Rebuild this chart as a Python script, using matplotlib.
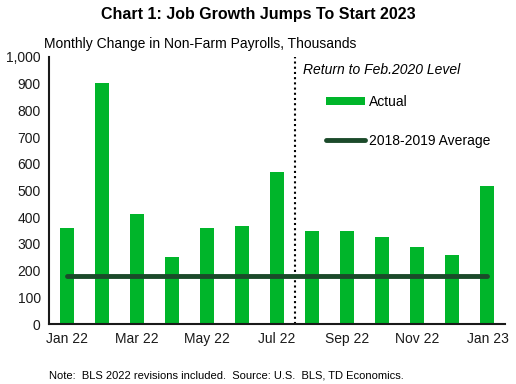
import matplotlib
matplotlib.use("Agg")
import matplotlib.pyplot as plt
import numpy as np
from matplotlib.ticker import FuncFormatter

plt.rcParams['font.family'] = ['Liberation Sans', 'DejaVu Sans']

months = ["Jan 22", "Feb 22", "Mar 22", "Apr 22", "May 22", "Jun 22", "Jul 22",
          "Aug 22", "Sep 22", "Oct 22", "Nov 22", "Dec 22", "Jan 23"]
actual = [360, 904, 412, 251, 360, 368, 568, 350, 350, 324, 290, 260, 517]
average_2018_2019 = 178
tick_labels = ["Jan 22", "Mar 22", "May 22", "Jul 22", "Sep 22", "Nov 22", "Jan 23"]

fig = plt.figure(figsize=(5.16, 3.84), dpi=100)
ax = fig.add_axes([49/516, 1-324/384, 456/516, (324-57)/384])

x = np.arange(len(months))
bars = ax.bar(x, actual, width=0.4, color="#00B52A", label="Actual", zorder=2)
line, = ax.plot([x[0], x[-1]], [average_2018_2019]*2, color="#1B4A2A", lw=3.5,
                solid_capstyle="round", label="2018-2019 Average", zorder=3)
ax.axvline(6.5, color="black", ls=(0, (1, 1.5)), lw=1.5, zorder=1)

ax.set_xlim(-0.5, 12.5)
ax.set_ylim(0, 1000)
ax.set_yticks(np.arange(0, 1001, 100))
ax.yaxis.set_major_formatter(FuncFormatter(lambda v, p: f"{int(v):,}"))
ax.set_xticks(x[::2])
ax.set_xticklabels(tick_labels)
ax.tick_params(length=0, labelsize=10, colors="#1a1a1a", pad=6)
for s in ["top", "right"]:
    ax.spines[s].set_visible(False)
for s in ["left", "bottom"]:
    ax.spines[s].set_color("#1a1a1a")
    ax.spines[s].set_linewidth(1.5)

fig.text(258/516, 1-14/384, "Chart 1: Job Growth Jumps To Start 2023", ha="center", va="center",
         fontsize=11.5, fontweight="bold")
fig.text(44/516, 1-44/384, "Monthly Change in Non-Farm Payrolls, Thousands", ha="left", va="center",
         fontsize=10)
ax.text(6.75, 950, "Return to Feb.2020 Level", ha="left", va="center", fontsize=10, style="italic")
fig.text(49/516, 1-375/384, "Note:  BLS 2022 revisions included.  Source: U.S.  BLS, TD Economics.",
         ha="left", va="center", fontsize=8)

leg = ax.legend([bars, line], ["Actual", "2018-2019 Average"], loc="upper left",
                bbox_to_anchor=(0.58, 0.905), frameon=False, fontsize=10,
                handlelength=2.8, handleheight=0.5, labelspacing=1.8, handletextpad=0.3)

fig.savefig("out.png", dpi=100)
